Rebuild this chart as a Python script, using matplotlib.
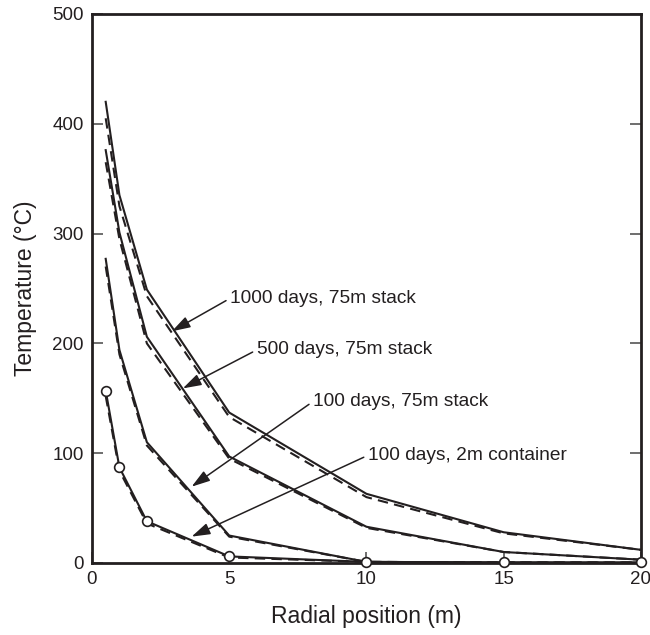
import numpy as np
import matplotlib
matplotlib.use("Agg")
import matplotlib.pyplot as plt

plt.rcParams['font.family'] = ['Liberation Sans', 'DejaVu Sans']

radius = [0.5, 1, 2, 5, 10, 15, 20]

# solid curves
t1000 = [420, 335, 249, 137, 63, 28, 12]
t500 = [376, 301, 206, 97, 33, 10, 3]
t100 = [277, 194, 110, 25, 1, 0.5, 0.3]
t2m = [157, 87, 38, 6, 1, 0.5, 0.5]

# dashed companions
t1000_d = [405, 325, 243, 133, 60, 27, 12]
t500_d = [365, 295, 200, 95, 32, 10, 3]
t100_d = [270, 190, 107, 24, 1, 0.5, 0.3]
t2m_d = [152, 84, 36, 5, 1, 0.5, 0.5]

labels = ["1000 days, 75m stack", "500 days, 75m stack",
          "100 days, 75m stack", "100 days, 2m container"]
text_pos = [(5.03, 241), (6.0, 194), (8.05, 147), (10.05, 98)]
arrow_tip = [(2.91, 211), (3.31, 159), (3.63, 69.5), (3.63, 24)]

ink = '#231f20'

fig = plt.figure(figsize=(6.5, 6.35), dpi=100)
ax = fig.add_axes([0.1415, 0.1134, 0.8445, 0.8646])

for s, d in [(t1000, t1000_d), (t500, t500_d), (t100, t100_d)]:
    ax.plot(radius, s, color=ink, lw=1.5)
    ax.plot(radius, d, color=ink, lw=1.5, ls=(0, (5, 3)))
ax.plot(radius, t2m_d, color=ink, lw=1.5, ls=(0, (5, 3)))
ax.plot(radius, t2m, color=ink, lw=1.5, marker='o', ms=7,
        mfc='white', mec=ink, mew=1.2, clip_on=False, zorder=5)

for lab, tp, tip in zip(labels, text_pos, arrow_tip):
    ax.annotate(lab, xy=tip, xytext=tp, fontsize=13.8, color=ink,
                ha='left', va='center',
                arrowprops=dict(arrowstyle='-|>,head_length=0.7,head_width=0.22',
                                color=ink, lw=1.1,
                                relpos=(0, 0.5), shrinkA=1, shrinkB=0,
                                mutation_scale=16))

ax.set_xlim(0, 20)
ax.set_ylim(0, 500)
ax.set_xticks([0, 5, 10, 15, 20])
ax.set_yticks([0, 100, 200, 300, 400, 500])
ax.tick_params(direction='in', length=8, width=1.2, color='#555555',
               labelsize=13.5, labelcolor=ink, right=True, pad=6)
for sp in ax.spines.values():
    sp.set_linewidth(2)
    sp.set_color(ink)
ax.set_xlabel("Radial position (m)", fontsize=16.5, color=ink, labelpad=12)
ax.set_ylabel("Temperature (°C)", fontsize=16.5, color=ink, labelpad=11)

fig.savefig("out.png", dpi=100)
